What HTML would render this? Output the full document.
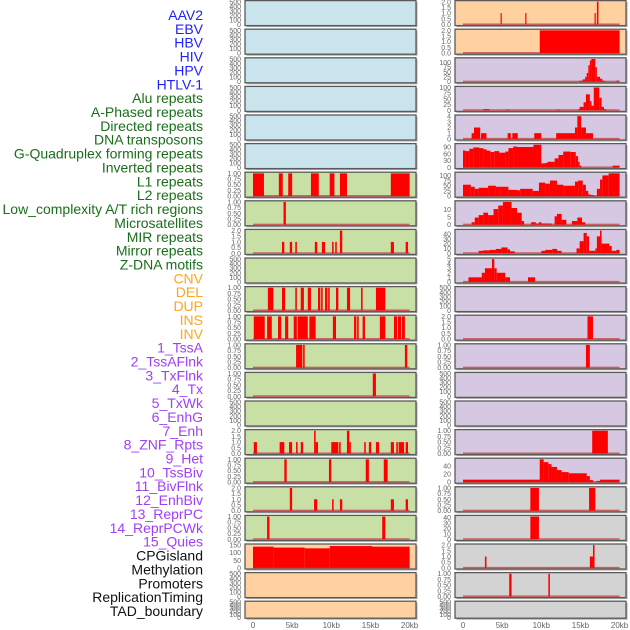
<!DOCTYPE html>
<html><head><meta charset="utf-8"><style>
html,body{margin:0;padding:0;background:#fff;width:630px;height:630px;overflow:hidden}
svg{display:block}
</style></head><body>
<svg id="chart" width="630" height="630" xmlns="http://www.w3.org/2000/svg" font-family="Liberation Sans, sans-serif"></svg>
<script>
const trackLabels = ["AAV2","EBV","HBV","HIV","HPV","HTLV-1","Alu repeats","A-Phased repeats","Directed repeats","DNA transposons","G-Quadruplex forming repeats","Inverted repeats","L1 repeats","L2 repeats","Low_complexity A/T rich regions","Microsatellites","MIR repeats","Mirror repeats","Z-DNA motifs","CNV","DEL","DUP","INS","INV","1_TssA","2_TssAFlnk","3_TxFlnk","4_Tx","5_TxWk","6_EnhG","7_Enh","8_ZNF_Rpts","9_Het","10_TssBiv","11_BivFlnk","12_EnhBiv","13_ReprPC","14_ReprPCWk","15_Quies","CPGisland","Methylation","Promoters","ReplicationTiming","TAD_boundary"];
const labelGroups = ["v","v","v","v","v","v","r","r","r","r","r","r","r","r","r","r","r","r","r","s","s","s","s","s","c","c","c","c","c","c","c","c","c","c","c","c","c","c","c","k","k","k","k","k"];
const xTickValues = [0,5,10,15,20];
const xTickLabels = ["0","5kb","10kb","15kb","20kb"];

const T500 = ["0","100","200","300","400","500"];
const T1 = ["0.00","0.25","0.50","0.75","1.00"];
const T2 = ["0.0","0.5","1.0","1.5","2.0"];
const leftTicks = [T500,T500,T500,T500,T500,T500,T1,T1,T2,T500,T1,T1,T1,T1,T500,T2,T1,T2,T1,["0","50","100","150"],T500,T500];
const rightTicks = [T2,T2,["0","25","50","75","100"],["0","25","50","75","100"],["0","1","2","3","4"],["0","30","60","90"],["0","25","50","75","100"],["0","5","10"],["0","10","20","30","40"],["0","1","2","3","4","5"],T500,T2,T1,T500,T500,T1,["0","20","40"],T1,["0","10","20","30","40"],T2,T1,T500];
const leftBg = ["b","b","b","b","b","b","g","g","g","g","g","g","g","g","g","g","g","g","g","o","o","o"];
const rightBg = ["o","o","p","p","p","p","p","p","p","p","p","p","p","p","p","p","p","y","y","y","y","y"];

// bars: [startKb, endKb, value]
const L6 = [[0,1.4,1],[3.3,3.8,1],[4.5,5.0,1],[7.4,8.4,1],[9.8,10.4,1],[11.1,12.0,1],[17.6,20.0,1]];
const L7 = [[3.9,4.2,1]];
const L8 = [[3.7,4.0,1],[4.7,5.0,1],[5.4,5.6,1],[7.9,8.2,1],[8.8,9.2,1],[10.1,10.3,1],[10.5,10.7,1],[11.1,11.4,2],[17.6,18.0,1],[19.5,19.8,1]];
const L10 = [[1.9,2.6,1],[3.7,4.1,1],[5.4,5.6,1],[6.1,6.5,1],[7.0,7.4,1],[8.3,8.6,1],[8.7,8.9,1],[9.2,9.5,1],[9.6,9.8,1],[10.6,10.9,1],[12.0,12.4,1],[13.8,14.0,1],[15.7,16.9,1]];
const L11 = [[0.1,1.5,1],[1.8,2.4,1],[3.2,3.6,1],[4.1,4.5,1],[5.2,5.6,1],[5.7,7.0,1],[7.2,8.0,1],[10.2,10.6,1],[12.9,13.2,1],[13.3,13.5,1],[14.0,14.3,1],[16.2,16.9,1],[18.0,18.4,1],[18.5,18.9,1],[19.0,19.4,1]];
const L12 = [[5.5,6.3,1],[6.4,6.6,1],[19.4,19.7,1]];
const L13 = [[15.3,15.7,1]];
const L15 = [[0.1,0.5,1],[3.4,4.0,1],[4.6,5.0,1],[5.5,5.7,1],[6.1,6.4,1],[7.8,8.0,2],[8.0,8.3,1],[10.0,10.9,1],[11.0,11.2,1],[12.0,12.3,2],[12.3,12.5,1],[14.2,14.4,1],[14.8,15.1,1],[15.7,16.1,1],[17.6,18.0,1],[18.3,18.5,1],[18.6,19.3,1],[19.5,19.8,1]];
const L16 = [[4.0,4.3,1],[9.7,10.0,1],[14.4,14.8,1],[16.7,17.2,1]];
const L17 = [[4.7,5.0,2],[7.8,8.2,1],[10.1,10.3,1],[11.1,11.4,1],[17.6,18.0,1],[19.5,19.8,1]];
const L18 = [[1.8,2.1,1],[16.5,16.9,1]];
const L19 = [[0,2.6,140],[2.6,6.6,134],[6.6,9.8,129],[9.8,15.2,144],[15.2,20,140]];

const R0 = [[4.8,4.95,1],[7.95,8.1,1],[16.8,16.95,1],[17.1,17.3,2]];
const R1 = [[9.8,20,2]];
const R2 = [[14.9,15.3,5],[15.3,15.6,12],[15.6,15.8,25],[15.8,16.0,45],[16.0,16.2,85],[16.2,16.4,110],[16.4,16.9,118],[16.9,17.1,75],[17.1,17.5,25],[17.5,17.8,15],[17.8,18.1,5],[19.6,20.0,5]];
const R3 = [[2.6,3.4,5],[5.4,6.0,3],[11.9,12.4,3],[14.7,14.9,5],[14.9,15.4,15],[15.4,15.7,35],[15.7,16.2,70],[16.2,16.4,40],[16.4,16.7,20],[16.7,17.4,100],[17.4,17.7,55],[17.7,18.0,15],[18.0,18.3,5]];
const R4 = [[1.1,1.4,1],[1.4,2.2,2],[2.3,3.0,1],[5.7,6.1,1],[6.3,7.0,1],[9.1,10.0,1],[11.9,14.3,1],[14.3,14.6,2],[14.6,15.1,4],[15.1,15.7,2],[15.7,16.6,1]];
const R5 = [[0,0.3,75],[0.3,0.8,72],[0.8,1.3,82],[1.3,2.1,88],[2.1,2.6,85],[2.6,3.0,80],[3.0,3.5,74],[3.5,4.0,68],[4.0,4.6,72],[4.6,5.4,65],[5.4,5.8,70],[5.8,6.4,85],[6.4,6.9,92],[6.9,9.0,90],[9.0,10.0,100],[10.0,10.5,18],[10.5,10.8,20],[10.8,11.7,25],[11.7,12.2,40],[12.2,12.8,55],[12.8,13.7,70],[13.7,14.4,68],[14.4,14.7,50],[14.7,14.9,25],[14.9,15.1,8],[19.1,20.0,8]];
const R6 = [[0,1.0,55],[1.0,1.5,45],[1.5,2.0,35],[2.0,3.2,40],[3.2,4.2,50],[4.2,4.7,45],[4.7,5.8,45],[5.8,6.9,30],[6.9,7.3,28],[7.3,8.9,35],[8.9,9.7,25],[9.7,10.5,65],[10.5,11.1,60],[11.1,12.0,75],[12.0,12.8,55],[12.8,14.3,50],[14.3,14.7,70],[14.7,15.3,75],[15.3,15.7,55],[15.7,16.0,25],[16.0,16.3,8],[16.3,16.7,5],[17.1,17.5,35],[17.5,17.8,80],[17.8,18.6,100],[18.6,20.0,110]];
const R7 = [[1.1,1.5,1.6],[1.5,2.0,4.7],[2.0,2.6,6.3],[2.6,3.2,7.9],[3.2,3.9,6.3],[3.9,4.5,10.3],[4.5,5.1,12.6],[5.1,6.2,15],[6.2,6.9,11],[6.9,7.5,7.9],[7.5,7.8,2.4],[8.7,9.3,1.6],[9.3,9.7,0.8],[9.7,10.0,1.6],[10.0,11.3,0.8],[11.7,12.0,5.5],[12.0,12.6,7.1],[12.6,13.2,3.2],[13.9,14.6,2.4],[14.6,15.2,4.7],[15.2,15.6,1.6]];
const R8 = [[2.0,2.6,5],[2.6,3.4,6],[3.4,4.2,7],[4.2,4.9,9],[4.9,5.7,12],[5.7,6.0,8],[6.0,6.6,4],[10.0,10.5,5],[10.5,11.4,7],[11.4,12.0,9],[12.0,12.6,5],[14.5,14.9,10],[14.9,15.4,25],[15.4,15.8,42],[15.8,16.1,35],[16.1,16.9,5],[16.9,17.1,10],[17.1,17.5,35],[17.5,17.7,47],[17.7,18.7,20],[18.7,19.0,15],[19.0,19.6,5],[19.6,20.0,7]];
const R9 = [[0.7,2.4,1],[2.4,2.8,2],[2.8,3.7,3],[3.7,4.0,5],[4.0,4.3,3],[4.3,5.4,2],[5.4,6.0,1],[8.3,9.2,1]];
const R11 = [[15.9,16.6,2]];
const R12 = [[15.7,16.2,1]];
const R15 = [[16.5,18.5,1]];
const R16 = [[0,9.8,6],[9.8,10.3,57],[10.3,10.9,50],[10.9,11.3,45],[11.3,12.0,38],[12.0,12.6,30],[12.6,13.5,25],[13.5,15.8,22],[15.8,16.2,15],[16.2,16.6,5],[17.1,17.5,3],[17.5,20.0,6]];
const R17 = [[8.6,9.7,1],[16.1,16.9,1]];
const R18 = [[8.6,9.7,42]];
const R19 = [[2.8,3.0,1],[16.2,16.6,1],[16.6,16.8,2]];
const R20 = [[5.9,6.2,1],[10.9,11.1,1]];

const leftBars = {6:L6,7:L7,8:L8,10:L10,11:L11,12:L12,13:L13,15:L15,16:L16,17:L17,18:L18,19:L19};
const rightBars = {0:R0,1:R1,2:R2,3:R3,4:R4,5:R5,6:R6,7:R7,8:R8,9:R9,11:R11,12:R12,15:R15,16:R16,17:R17,18:R18,19:R19,20:R20};

const NS = "http://www.w3.org/2000/svg";
const svg = document.getElementById("chart");
const bgColors = {b:"#c9e4ec",g:"#c8e0a5",o:"#ffd1a0",p:"#d6c7e2",y:"#d3d3d3"};
const txtColors = {v:"#1f1fff",r:"#1a6e1a",s:"#ffa51f",c:"#a040f5",k:"#111"};
function el(tag, attrs, parent) {
  const e = document.createElementNS(NS, tag);
  for (const k in attrs) e.setAttribute(k, attrs[k]);
  (parent || svg).appendChild(e);
  return e;
}
// track labels
trackLabels.forEach((t, i) => {
  const e = el("text", {x: 203, y: 15 + i * 13.86 + 5, "text-anchor": "end", "font-size": 14, fill: txtColors[labelGroups[i]]});
  e.textContent = t;
  
  
});
const cols = [{x0:245, w:171, zero:253, ticks:leftTicks, bg:leftBg, bars:leftBars, side:"left"},
              {x0:455, w:171, zero:463, ticks:rightTicks, bg:rightBg, bars:rightBars, side:"right"}];
const kbPx = 7.83;
for (const c of cols) {
  const xs = v => c.zero + v * kbPx;
  for (let r = 0; r < 22; r++) {
    const top = 0.6 + r * 28.6;
    const h = r === 21 ? 17 : 25;
    const g = el("g", {});
    
    
    el("rect", {x: c.x0 + 1.5, y: top + 1.5, width: c.w, height: h, fill: "#aaa"}, g);
    el("rect", {x: c.x0, y: top, width: c.w, height: h, fill: bgColors[c.bg[r]], stroke: "#5a5a5a", "stroke-width": 1.3}, g);
    const ticks = c.ticks[r];
    const bars = c.bars[r];
    let ymax = parseFloat(ticks[ticks.length - 1]);
    if (bars) bars.forEach(b => { if (b[2] > ymax) ymax = b[2]; });
    const lo = -0.05 * ymax, hi = 1.05 * ymax;
    const ys = v => top + h * (1 - (v - lo) / (hi - lo));
    ticks.forEach(t => {
      const e = el("text", {x: c.x0 - 4, y: ys(parseFloat(t)) + 2.5, "text-anchor": "end", "font-size": 7, fill: "#666"}, g);
      e.textContent = t;
      
      
    });
    if (bars) {
      el("rect", {x: xs(0), y: ys(0) - 1, width: xs(20) - xs(0), height: 1.6, fill: "#c86060"}, g);
      bars.forEach(b => {
        const bar = el("rect", {x: xs(b[0]), y: ys(b[2]), width: Math.max(1.2, xs(b[1]) - xs(b[0])), height: ys(0) - ys(b[2]), fill: "#ff0000"}, g);
        
        
      });
    }
  }
  xTickValues.forEach((v, i) => {
    const e = el("text", {x: xs(v), y: 628, "text-anchor": "middle", "font-size": 8, fill: "#666"});
    e.textContent = xTickLabels[i];
    
    
  });
}
</script>
</body></html>
